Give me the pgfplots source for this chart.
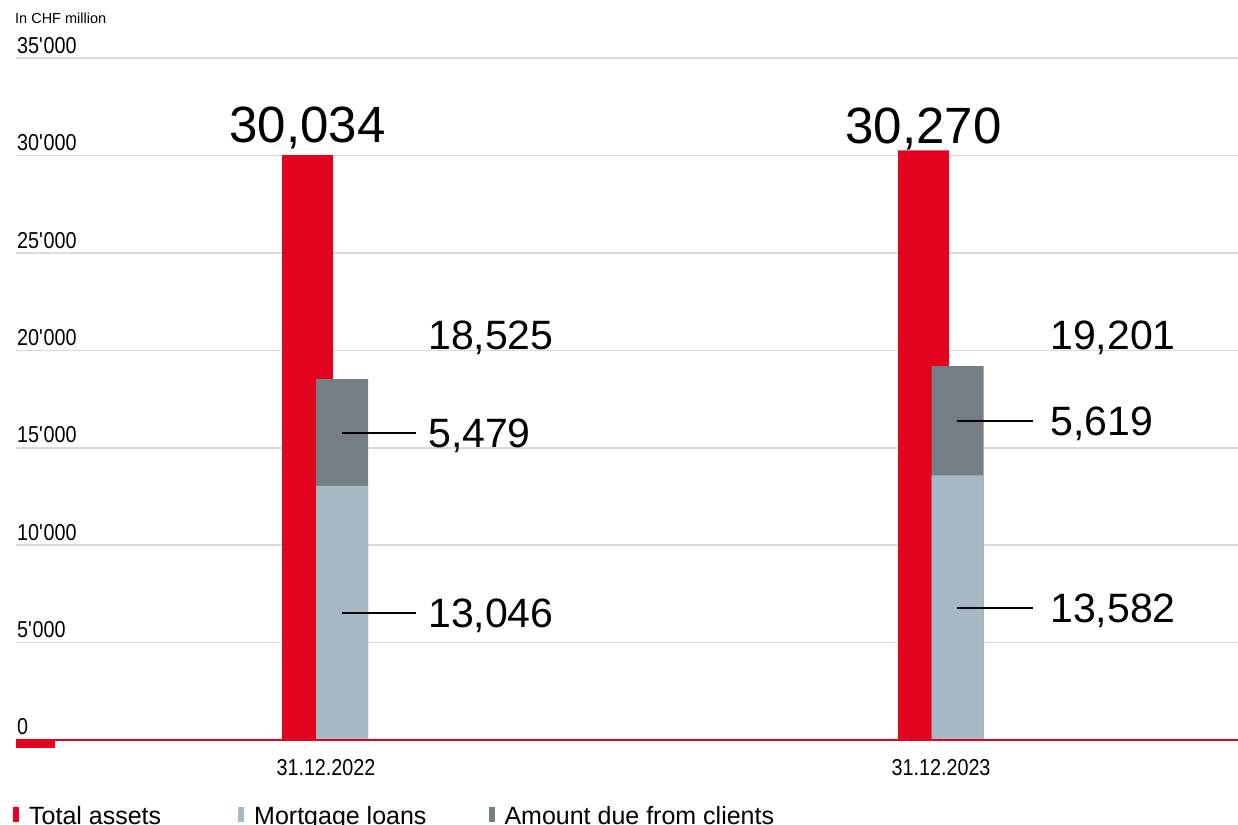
\documentclass[border=0pt]{standalone}
\usepackage{fontspec}
\setmainfont{Liberation Sans}
\newfontfamily\tickfont[FakeStretch=0.86]{Liberation Sans}
\usepackage{pgfplots}
\pgfplotsset{compat=1.18}
\definecolor{cred}{HTML}{E3051F}
\definecolor{cdark}{HTML}{737E85}
\definecolor{clight}{HTML}{A6B8C3}
\definecolor{cgrid}{HTML}{DADADA}
\begin{document}
\begin{tikzpicture}
\begin{axis}[
  scale only axis, width=1222pt, height=825pt,
  xmin=16, xmax=1238, ymin=-4364, ymax=37993,
  clip=false,
  axis line style={draw=none},
  tick style={draw=none},
  major tick length=0pt,
  ytick={0,5000,10000,15000,20000,25000,30000,35000},
  yticklabels={0,5\textquotesingle000,10\textquotesingle000,15\textquotesingle000,20\textquotesingle000,25\textquotesingle000,30\textquotesingle000,35\textquotesingle000},
  ymajorgrids, grid style={cgrid, line width=1.6pt},
  yticklabel style={anchor=base west, inner sep=0pt, xshift=1pt, yshift=5pt, font=\tickfont\fontsize{23}{23}\selectfont},
  xtick={326,941}, xticklabels={31.12.2022,31.12.2023},
  xticklabel style={anchor=base, inner sep=0pt, yshift=49pt, font=\tickfont\fontsize{23}{23}\selectfont},
  legend columns=3,
  legend image code/.code={\fill[#1] (0pt,-6.5pt) rectangle (6pt,8.5pt);},
  legend style={at={(axis description cs:-0.00245,-0.001)}, anchor=south west,
    draw=none, fill=none, inner sep=0pt,
    font=\fontsize{25}{25}\selectfont, nodes={inner sep=0pt},
    /tikz/every odd column/.style={column sep=10pt},
    /tikz/column 2/.style={column sep=77pt},
    /tikz/column 4/.style={column sep=62pt}},
]
\addplot[ybar, bar width=51, bar shift=0pt, fill=cred, draw=none, forget plot] coordinates {(307.5,30034) (923.5,30270)};
\addplot[ybar, bar width=52, bar shift=0pt, fill=cdark, draw=none, forget plot] coordinates {(342,18525) (957.5,19201)};
\addplot[ybar, bar width=52, bar shift=0pt, fill=clight, draw=none, forget plot] coordinates {(342,13046) (957.5,13582)};
\addplot[cred, line width=2pt, forget plot] coordinates {(16,0) (1238,0)};
\fill[cred] (axis cs:16,0) rectangle (axis cs:55,-410);

\draw[black, line width=2pt] (axis cs:342,15785.5) -- (axis cs:416,15785.5);
\draw[black, line width=2pt] (axis cs:342,6523) -- (axis cs:416,6523);
\draw[black, line width=2pt] (axis cs:957,16391.5) -- (axis cs:1033,16391.5);
\draw[black, line width=2pt] (axis cs:957,6791) -- (axis cs:1033,6791);

\node[anchor=base, inner sep=0pt, yshift=13pt, font=\fontsize{51}{51}\selectfont] at (axis cs:307.5,30034) {30,034};
\node[anchor=base, inner sep=0pt, yshift=7pt, font=\fontsize{51}{51}\selectfont] at (axis cs:923.5,30270) {30,270};
\node[anchor=base west, inner sep=0pt, yshift=30pt, font=\fontsize{41}{41}\selectfont] at (axis cs:428,18525) {18,525};
\node[anchor=base west, inner sep=0pt, yshift=17pt, font=\fontsize{41}{41}\selectfont] at (axis cs:1050,19201) {19,201};
\node[anchor=base west, inner sep=0pt, yshift=-15pt, font=\fontsize{41}{41}\selectfont] at (axis cs:428,15785.5) {5,479};
\node[anchor=base west, inner sep=0pt, yshift=-15pt, font=\fontsize{41}{41}\selectfont] at (axis cs:428,6523) {13,046};
\node[anchor=base west, inner sep=0pt, yshift=-15pt, font=\fontsize{41}{41}\selectfont] at (axis cs:1050,16391.5) {5,619};
\node[anchor=base west, inner sep=0pt, yshift=-15pt, font=\fontsize{41}{41}\selectfont] at (axis cs:1050,6791) {13,582};
\node[anchor=base west, inner sep=0pt, font=\fontsize{14.5}{14.5}\selectfont] at (axis cs:15,36761) {In CHF million};

\addlegendimage{fill=cred, draw=none}
\addlegendentry{Total assets}
\addlegendimage{fill=clight, draw=none}
\addlegendentry{Mortgage loans}
\addlegendimage{fill=cdark, draw=none}
\addlegendentry{Amount due from clients}
\end{axis}
\pgfresetboundingbox
\path[use as bounding box] ([xshift=-16pt]current axis.south west) rectangle (current axis.north east);
\end{tikzpicture}
\end{document}
